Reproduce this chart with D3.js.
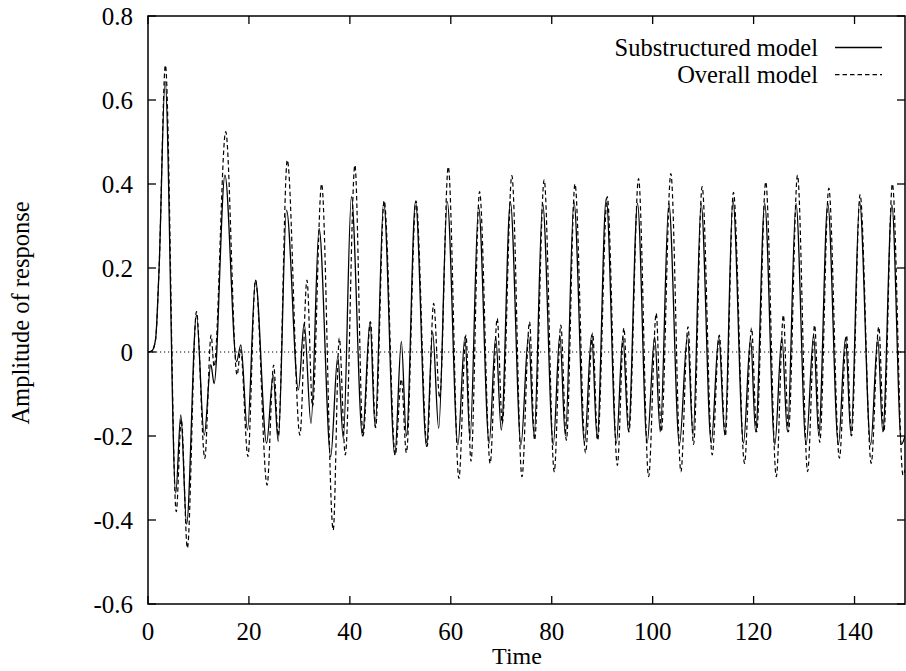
<!DOCTYPE html>
<html>
<head>
<meta charset="utf-8">
<script src="https://cdn.jsdelivr.net/npm/d3@7"></script>
<style>
  body { margin: 0; background: #fff; }
  svg { display: block; }
  text { font-family: "Liberation Serif", "Times New Roman", "DejaVu Serif", serif; fill: #000; }
</style>
</head>
<body>
<svg id="chart" width="906" height="671"></svg>
<script>
// Axis ticks
const xTicks = [0, 20, 40, 60, 80, 100, 120, 140];
const yTicks = [-0.6, -0.4, -0.2, 0, 0.2, 0.4, 0.6, 0.8];

// Series names
const seriesNames = ["Substructured model", "Overall model"];

// Substructured model: [time, amplitude], read at the turning points of the curve
const substructured = [
  [0, 0], [0.8, 0.003], [1.5, 0.03], [2.2, 0.2], [3.4, 0.644], [5.5, -0.336],
  [6.5, -0.15], [7.65, -0.41], [9.6, 0.088], [11.15, -0.198], [12.45, -0.03],
  [13.1, -0.075], [15.25, 0.421], [17.55, -0.023], [18.4, 0.017], [19.7, -0.186],
  [21.3, 0.171], [23.5, -0.217], [24.8, -0.055], [25.8, -0.213], [27.45, 0.338],
  [29.8, -0.09], [30.95, 0.068], [32.3, -0.17], [33.9, 0.294], [36.2, -0.249],
  [37.6, -0.011], [38.7, -0.206], [40.3, 0.37], [42.5, -0.2], [44, 0.072],
  [45, -0.178], [46.7, 0.358], [48.9, -0.245], [50.2, 0.025], [51.2, -0.2],
  [53, 0.358], [55.2, -0.225], [56.4, 0.048], [57.6, -0.182], [59.3, 0.358],
  [61.4, -0.221], [62.8, 0.036], [63.8, -0.205], [65.5, 0.346], [67.6, -0.217],
  [68.9, 0.036], [70, -0.186], [71.8, 0.358], [73.9, -0.221], [75.4, 0.04],
  [76.5, -0.2], [78.2, 0.354], [80.3, -0.221], [81.6, 0.04], [82.7, -0.2],
  [84.4, 0.358], [86.5, -0.217], [87.9, 0.04], [89, -0.206], [90.8, 0.366],
  [92.8, -0.217], [94.1, 0.036], [95.2, -0.19], [97, 0.354], [98.9, -0.217],
  [100.4, 0.036], [101.5, -0.19], [103.2, 0.354], [105.3, -0.221], [106.9, 0.04],
  [108, -0.198], [109.6, 0.354], [111.6, -0.217], [113.1, 0.036], [114.3, -0.198],
  [115.9, 0.362], [118, -0.217], [119.4, 0.033], [120.4, -0.19], [122.2, 0.354],
  [124.2, -0.221], [125.6, 0.036], [126.7, -0.19], [128.4, 0.354], [130.4, -0.221],
  [131.9, 0.04], [132.9, -0.198], [134.7, 0.354], [136.8, -0.221], [138.2, 0.033],
  [139.3, -0.198], [141, 0.358], [143.2, -0.221], [144.6, 0.033], [145.6, -0.19],
  [147.4, 0.35], [149.3, -0.22], [150, -0.2]
];

// Overall model
const overall = [
  [0, 0], [0.8, 0.003], [1.5, 0.03], [2.2, 0.2], [3.45, 0.683], [5.6, -0.38],
  [6.6, -0.16], [7.8, -0.467], [9.6, 0.096], [11.25, -0.253], [12.5, 0.04],
  [13.1, -0.035], [15.4, 0.525], [17.65, -0.055], [18.35, 0.005], [19.8, -0.249],
  [21.3, 0.171], [23.6, -0.317], [24.9, -0.031], [25.8, -0.2], [27.6, 0.457],
  [30.1, -0.198], [31.5, 0.171], [32.6, -0.13], [34.4, 0.4], [36.7, -0.424],
  [37.9, 0.033], [39.1, -0.245], [41, 0.445], [42.6, -0.2], [44.1, 0.072],
  [45.1, -0.18], [46.8, 0.36], [49, -0.245], [50.2, -0.065], [51.2, -0.24],
  [53.1, 0.36], [55.3, -0.225], [56.6, 0.116], [57.8, -0.11], [59.5, 0.441],
  [61.6, -0.301], [63, 0.04], [64, -0.26], [65.7, 0.382], [67.8, -0.265],
  [69.2, 0.08], [70.2, -0.17], [72.1, 0.42], [74.1, -0.297], [75.6, 0.072],
  [76.6, -0.21], [78.5, 0.41], [80.5, -0.285], [81.8, 0.064], [82.9, -0.21],
  [84.6, 0.4], [86.7, -0.24], [88.1, 0.045], [89.1, -0.21], [91, 0.37],
  [93, -0.27], [94.3, 0.057], [95.3, -0.19], [97.2, 0.413], [99.2, -0.297],
  [100.7, 0.092], [101.7, -0.19], [103.6, 0.425], [105.6, -0.285], [107, 0.06],
  [108.1, -0.22], [109.8, 0.394], [111.8, -0.245], [113.2, 0.04], [114.4, -0.2],
  [116, 0.38], [118.2, -0.265], [119.6, 0.057], [120.6, -0.19], [122.4, 0.405],
  [124.5, -0.297], [125.9, 0.088], [126.9, -0.19], [128.7, 0.421], [130.7, -0.285],
  [132.1, 0.064], [133.1, -0.215], [134.9, 0.39], [137, -0.253], [138.4, 0.04],
  [139.4, -0.2], [141.1, 0.375], [143.3, -0.265], [144.8, 0.06], [145.8, -0.19],
  [147.5, 0.4], [149.6, -0.293], [150, -0.28]
];

const svg = d3.select("#chart");
const plotL = 148, plotR = 905, plotT = 16, plotB = 604;
const fontSize = 25;
const tickLen = 8;

const x = d3.scaleLinear().domain([0, 150]).range([plotL, plotR]);
const y = d3.scaleLinear().domain([-0.6, 0.8]).range([plotB, plotT]);

const fmtY = d => d === 0 ? "0" : d.toFixed(1);

// zero line
svg.append("line")
  .attr("x1", plotL).attr("x2", plotR)
  .attr("y1", y(0)).attr("y2", y(0))
  .attr("stroke", "#000")
  .attr("stroke-width", 1)
  .attr("stroke-dasharray", "1.2,2.8");

// curves
const line = d3.line()
  .x(d => x(d[0]))
  .y(d => y(d[1]))
  .curve(d3.curveMonotoneX);

svg.append("clipPath").attr("id", "plotclip")
  .append("rect")
  .attr("x", plotL).attr("y", plotT)
  .attr("width", plotR - plotL).attr("height", plotB - plotT);

svg.append("path")
  .datum(overall)
  .attr("d", line)
  .attr("clip-path", "url(#plotclip)")
  .attr("fill", "none")
  .attr("stroke", "#000")
  .attr("stroke-width", 1.2)
  .attr("stroke-dasharray", "4.5,3");

svg.append("path")
  .datum(substructured)
  .attr("d", line)
  .attr("clip-path", "url(#plotclip)")
  .attr("fill", "none")
  .attr("stroke", "#000")
  .attr("stroke-width", 1.3);

// frame
svg.append("rect")
  .attr("x", plotL).attr("y", plotT)
  .attr("width", plotR - plotL).attr("height", plotB - plotT)
  .attr("fill", "none")
  .attr("stroke", "#000")
  .attr("stroke-width", 1.5);

// y ticks (mirrored on right)
const gy = svg.append("g");
yTicks.forEach(t => {
  gy.append("line")
    .attr("x1", plotL).attr("x2", plotL + tickLen)
    .attr("y1", y(t)).attr("y2", y(t))
    .attr("stroke", "#000").attr("stroke-width", 1.3);
  gy.append("line")
    .attr("x1", plotR).attr("x2", plotR - tickLen)
    .attr("y1", y(t)).attr("y2", y(t))
    .attr("stroke", "#000").attr("stroke-width", 1.3);
  gy.append("text")
    .attr("x", plotL - 15)
    .attr("y", y(t))
    .attr("dy", "0.35em")
    .attr("text-anchor", "end")
    .style("font-size", fontSize + "px")
    .text(fmtY(t));
});

// x ticks (mirrored on top)
const gx = svg.append("g");
xTicks.forEach(t => {
  gx.append("line")
    .attr("x1", x(t)).attr("x2", x(t))
    .attr("y1", plotB).attr("y2", plotB - tickLen)
    .attr("stroke", "#000").attr("stroke-width", 1.3);
  gx.append("line")
    .attr("x1", x(t)).attr("x2", x(t))
    .attr("y1", plotT).attr("y2", plotT + tickLen)
    .attr("stroke", "#000").attr("stroke-width", 1.3);
  gx.append("text")
    .attr("x", x(t))
    .attr("y", 640)
    .attr("text-anchor", "middle")
    .style("font-size", fontSize + "px")
    .text(t);
});

// axis titles
svg.append("text")
  .attr("x", 517)
  .attr("y", 664)
  .attr("text-anchor", "middle")
  .style("font-size", "24px")
  .text("Time");

svg.append("text")
  .attr("transform", "translate(29,313) rotate(-90)")
  .attr("text-anchor", "middle")
  .style("font-size", "24.5px")
  .text("Amplitude of response");

// legend
const legend = svg.append("g");
seriesNames.forEach((name, i) => {
  const by = 56 + i * 27.2;
  legend.append("text")
    .attr("x", 818)
    .attr("y", by)
    .attr("text-anchor", "end")
    .style("font-size", "24.5px")
    .text(name);
  legend.append("line")
    .attr("x1", 835).attr("x2", 882)
    .attr("y1", by - 8.5).attr("y2", by - 8.5)
    .attr("stroke", "#000")
    .attr("stroke-width", i === 0 ? 1.3 : 1.2)
    .attr("stroke-dasharray", i === 0 ? null : "4.5,3");
});
</script>
</body>
</html>
